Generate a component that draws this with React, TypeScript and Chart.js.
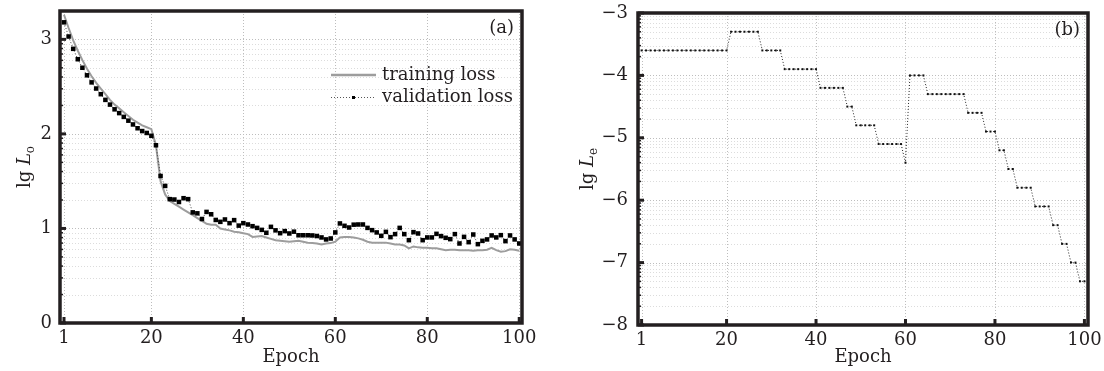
import React, { useEffect, useRef } from 'react';
import { Chart, registerables } from 'chart.js';

Chart.register(...registerables);

// ---------------- data ----------------
const epochs = Array.from({ length: 100 }, (_, i) => i + 1);

const trainingLoss = [
  3.26, 3.12, 2.99, 2.88, 2.78, 2.69, 2.61, 2.54, 2.48, 2.42,
  2.36, 2.31, 2.27, 2.23, 2.19, 2.15, 2.12, 2.09, 2.07, 2.05,
  1.88, 1.5, 1.36, 1.29, 1.26, 1.23, 1.2, 1.17, 1.14, 1.11,
  1.08, 1.05, 1.04, 1.04, 1.0, 0.99, 0.98, 0.965, 0.96, 0.95,
  0.94, 0.91, 0.915, 0.92, 0.905, 0.89, 0.875, 0.87, 0.865, 0.86,
  0.865, 0.87, 0.86, 0.85, 0.845, 0.84, 0.83, 0.84, 0.845, 0.86,
  0.905, 0.91, 0.91, 0.905, 0.895, 0.88, 0.86, 0.85, 0.85, 0.85,
  0.85, 0.84, 0.83, 0.83, 0.82, 0.79, 0.81, 0.8, 0.795, 0.795,
  0.79, 0.79, 0.78, 0.77, 0.775, 0.775, 0.77, 0.77, 0.77, 0.765,
  0.77, 0.77, 0.775, 0.795, 0.77, 0.753, 0.76, 0.78, 0.775, 0.765,
];

const validationLoss = [
  3.18, 3.03, 2.9, 2.79, 2.7, 2.62, 2.545, 2.48, 2.42, 2.36,
  2.31, 2.26, 2.22, 2.18, 2.14, 2.1, 2.06, 2.03, 2.01, 1.98,
  1.88, 1.555, 1.45, 1.31, 1.306, 1.28, 1.32, 1.31, 1.17, 1.16,
  1.1, 1.175, 1.15, 1.09, 1.07, 1.095, 1.056, 1.088, 1.03, 1.056,
  1.042, 1.024, 1.006, 0.985, 0.954, 1.017, 0.98, 0.95, 0.972, 0.947,
  0.966, 0.928, 0.928, 0.928, 0.926, 0.92, 0.905, 0.884, 0.894, 0.958,
  1.053, 1.028, 1.01, 1.04, 1.042, 1.042, 1.006, 0.982, 0.958, 0.922,
  0.964, 0.908, 0.94, 1.006, 0.94, 0.876, 0.961, 0.947, 0.876, 0.905,
  0.905, 0.943, 0.919, 0.901, 0.887, 0.94, 0.841, 0.911, 0.855, 0.936,
  0.834, 0.869, 0.884, 0.926, 0.905, 0.929, 0.866, 0.926, 0.884, 0.841,
];

const learningError = [
  -3.6, -3.6, -3.6, -3.6, -3.6, -3.6, -3.6, -3.6, -3.6, -3.6,
  -3.6, -3.6, -3.6, -3.6, -3.6, -3.6, -3.6, -3.6, -3.6, -3.6,
  -3.3, -3.3, -3.3, -3.3, -3.3, -3.3, -3.3, -3.6, -3.6, -3.6,
  -3.6, -3.6, -3.9, -3.9, -3.9, -3.9, -3.9, -3.9, -3.9, -3.9,
  -4.2, -4.2, -4.2, -4.2, -4.2, -4.2, -4.5, -4.5, -4.8, -4.8,
  -4.8, -4.8, -4.8, -5.1, -5.1, -5.1, -5.1, -5.1, -5.1, -5.4,
  -4.0, -4.0, -4.0, -4.0, -4.3, -4.3, -4.3, -4.3, -4.3, -4.3,
  -4.3, -4.3, -4.3, -4.6, -4.6, -4.6, -4.6, -4.9, -4.9, -4.9,
  -5.2, -5.2, -5.5, -5.5, -5.8, -5.8, -5.8, -5.8, -6.1, -6.1,
  -6.1, -6.1, -6.4, -6.4, -6.7, -6.7, -7.0, -7.0, -7.3, -7.3,
];

const xTicks = [1, 20, 40, 60, 80, 100];
const yTicksA = [0, 1, 2, 3];
const yTicksB = [-8, -7, -6, -5, -4, -3];

// ---------------- styles ----------------
const FONT = '"DejaVu Serif", "Liberation Serif", serif';
const INK = '#231f20';
const FS = 18;

function logMinor(min: number, max: number) {
  const out: number[] = [];
  for (let k = Math.floor(min); k < max; k++) {
    for (let m = 2; m <= 9; m++) {
      const v = k + Math.log10(m);
      if (v > min && v < max) out.push(v);
    }
  }
  return out;
}

const panelPlugin = {
  id: 'panel',
  beforeDatasetsDraw(chart: any, _args: any, opts: any) {
    const { ctx, chartArea: a, scales } = chart;
    const x = scales.x, y = scales.y;
    ctx.save();
    ctx.lineWidth = 1;
    ctx.setLineDash([1, 2]);
    const hline = (v: number, color: string) => {
      const py = Math.round(y.getPixelForValue(v)) + 0.5;
      ctx.strokeStyle = color;
      ctx.beginPath();
      ctx.moveTo(a.left, py);
      ctx.lineTo(a.right, py);
      ctx.stroke();
    };
    for (const v of logMinor(y.min, y.max)) hline(v, '#dcdcdc');
    for (const v of opts.yTicks) if (v > y.min && v < y.max) hline(v, '#bdbdbd');
    for (const v of opts.xTicks) {
      const px = Math.round(x.getPixelForValue(v)) + 0.5;
      ctx.strokeStyle = '#bdbdbd';
      ctx.beginPath();
      ctx.moveTo(px, a.top);
      ctx.lineTo(px, a.bottom);
      ctx.stroke();
    }
    ctx.restore();
  },
  afterDatasetsDraw(chart: any, _args: any, opts: any) {
    const { ctx, chartArea: a, scales } = chart;
    const x = scales.x, y = scales.y;
    ctx.save();
    ctx.setLineDash([]);
    ctx.strokeStyle = INK;
    ctx.fillStyle = INK;
    // minor y ticks
    ctx.lineWidth = 1.5;
    for (const v of logMinor(y.min, y.max)) {
      const py = y.getPixelForValue(v);
      ctx.beginPath();
      ctx.moveTo(a.left, py);
      ctx.lineTo(a.left + 3, py);
      ctx.stroke();
    }
    // major ticks
    ctx.lineWidth = 3;
    for (const v of opts.yTicks) {
      const py = y.getPixelForValue(v);
      ctx.beginPath();
      ctx.moveTo(a.left, py);
      ctx.lineTo(a.left + 6, py);
      ctx.stroke();
    }
    for (const v of opts.xTicks) {
      const px = x.getPixelForValue(v);
      ctx.beginPath();
      ctx.moveTo(px, a.bottom);
      ctx.lineTo(px, a.bottom - 6);
      ctx.stroke();
    }
    // frame
    ctx.lineWidth = 3.5;
    ctx.strokeRect(a.left, a.top, a.right - a.left, a.bottom - a.top);

    // panel label
    ctx.font = `${FS}px ${FONT}`;
    ctx.textAlign = 'right';
    ctx.textBaseline = 'middle';
    ctx.fillText(opts.label, a.right - 8, a.top + 17);

    // y title: lg L_sub
    ctx.save();
    ctx.translate(opts.titleX, (a.top + a.bottom) / 2);
    ctx.rotate(-Math.PI / 2);
    ctx.textAlign = 'left';
    ctx.textBaseline = 'alphabetic';
    const f1 = `${FS}px ${FONT}`;
    const f2 = `italic ${FS}px ${FONT}`;
    const f3 = `12px ${FONT}`;
    ctx.font = f1; const w1 = ctx.measureText('lg ').width;
    ctx.font = f2; const w2 = ctx.measureText('L').width;
    ctx.font = f3; const w3 = ctx.measureText(opts.sub).width;
    let x0 = -(w1 + w2 + w3) / 2;
    ctx.font = f1; ctx.fillText('lg ', x0, 0); x0 += w1;
    ctx.font = f2; ctx.fillText('L', x0, 0); x0 += w2;
    ctx.font = f3; ctx.fillText(opts.sub, x0, 4);
    ctx.restore();

    // legend
    if (opts.legend) {
      const lx0 = a.left + 271, lx1 = a.left + 316, tx = a.left + 322;
      const y1 = a.top + 64, y2 = a.top + 86;
      ctx.lineWidth = 2.5;
      ctx.strokeStyle = '#9d9d9d';
      ctx.beginPath(); ctx.moveTo(lx0, y1); ctx.lineTo(lx1, y1); ctx.stroke();
      ctx.lineWidth = 1;
      ctx.strokeStyle = '#555';
      ctx.setLineDash([1, 2]);
      ctx.beginPath(); ctx.moveTo(lx0, y2 + 0.5); ctx.lineTo(lx1, y2 + 0.5); ctx.stroke();
      ctx.setLineDash([]);
      ctx.fillStyle = '#000';
      ctx.fillRect((lx0 + lx1) / 2 - 1.5, y2 - 1, 3, 3);
      ctx.fillStyle = INK;
      ctx.font = `${FS}px ${FONT}`;
      ctx.textAlign = 'left';
      ctx.textBaseline = 'middle';
      ctx.fillText('training loss', tx, y1);
      ctx.fillText('validation loss', tx, y2);
    }
    ctx.restore();
  },
};

const minus = (v: number) => String(v).replace('-', '\u2212');

function makeScales(p: {
  xMin: number; xMax: number; yMin: number; yMax: number; yTicks: number[];
  yWidth: number; xHeight: number; yPad: number;
}) {
  const font = { family: FONT, size: FS };
  return {
    x: {
      type: 'linear',
      min: p.xMin,
      max: p.xMax,
      afterBuildTicks: (s: any) => { s.ticks = xTicks.map((v) => ({ value: v })); },
      afterFit: (s: any) => { s.height = p.xHeight; s.paddingLeft = 0; s.paddingRight = 0; },
      grid: { display: false, drawTicks: false },
      border: { display: false },
      ticks: { font, color: INK, padding: 5, maxRotation: 0, autoSkip: false, callback: (v: any) => minus(v) },
      title: { display: true, text: 'Epoch', font, color: INK, padding: { top: 0, bottom: 3 } },
    },
    y: {
      type: 'linear',
      min: p.yMin,
      max: p.yMax,
      afterBuildTicks: (s: any) => { s.ticks = p.yTicks.map((v) => ({ value: v })); },
      afterFit: (s: any) => { s.width = p.yWidth; s.paddingTop = 0; s.paddingBottom = 0; },
      grid: { display: false, drawTicks: false },
      border: { display: false },
      ticks: { font, color: INK, padding: p.yPad, autoSkip: false, callback: (v: any) => minus(v) },
    },
  };
}

export default function App() {
  const refA = useRef<HTMLCanvasElement>(null);
  const refB = useRef<HTMLCanvasElement>(null);

  useEffect(() => {
    const chartA = new Chart(refA.current as HTMLCanvasElement, {
      type: 'line',
      data: {
        datasets: [
          {
            label: 'validation loss',
            data: epochs.map((e, i) => ({ x: e, y: validationLoss[i] })),
            borderColor: '#444',
            borderWidth: 1,
            borderDash: [1, 2],
            pointStyle: 'rect',
            pointRadius: 3.2,
            pointBorderWidth: 0,
            pointBackgroundColor: '#000',
            tension: 0,
          },
          {
            label: 'training loss',
            data: epochs.map((e, i) => ({ x: e, y: trainingLoss[i] })),
            borderColor: '#9d9d9d',
            borderWidth: 2,
            pointRadius: 0,
            tension: 0,
          },
        ],
      } as any,
      options: {
        animation: false,
        responsive: false,
        devicePixelRatio: 1,
        events: [],
        layout: { padding: { left: 0, right: 30, top: 11, bottom: 0 } },
        plugins: {
          legend: { display: false },
          tooltip: { enabled: false },
          panel: { xTicks, yTicks: yTicksA, label: '(a)', sub: 'o', titleX: 30, legend: true },
        } as any,
        scales: makeScales({ xMin: 0.13, xMax: 100.6, yMin: 0, yMax: 3.3, yTicks: yTicksA, yWidth: 60, xHeight: 48, yPad: 8 }) as any,
      },
      plugins: [panelPlugin as any],
    });

    const chartB = new Chart(refB.current as HTMLCanvasElement, {
      type: 'line',
      data: {
        datasets: [
          {
            label: 'lg Le',
            data: epochs.map((e, i) => ({ x: e, y: learningError[i] })),
            borderColor: '#222',
            borderWidth: 1,
            borderDash: [1, 2],
            pointStyle: 'rect',
            pointRadius: 1.4,
            pointBorderWidth: 0,
            pointBackgroundColor: '#111',
            tension: 0,
          },
        ],
      } as any,
      options: {
        animation: false,
        responsive: false,
        devicePixelRatio: 1,
        events: [],
        layout: { padding: { left: 0, right: 16, top: 13, bottom: 0 } },
        plugins: {
          legend: { display: false },
          tooltip: { enabled: false },
          panel: { xTicks, yTicks: yTicksB, label: '(b)', sub: 'e', titleX: 41, legend: false },
        } as any,
        scales: makeScales({ xMin: 0.2, xMax: 100.8, yMin: -8, yMax: -3, yTicks: yTicksB, yWidth: 86, xHeight: 46, yPad: 10 }) as any,
      },
      plugins: [panelPlugin as any],
    });

    return () => {
      chartA.destroy();
      chartB.destroy();
    };
  }, []);

  return (
    <div style={{ position: 'absolute', left: 0, top: 0, width: 1104, height: 371, background: '#fff' }}>
      <canvas ref={refA} width={552} height={371} style={{ position: 'absolute', left: 0, top: 0 }} />
      <canvas ref={refB} width={552} height={371} style={{ position: 'absolute', left: 552, top: 0 }} />
    </div>
  );
}
